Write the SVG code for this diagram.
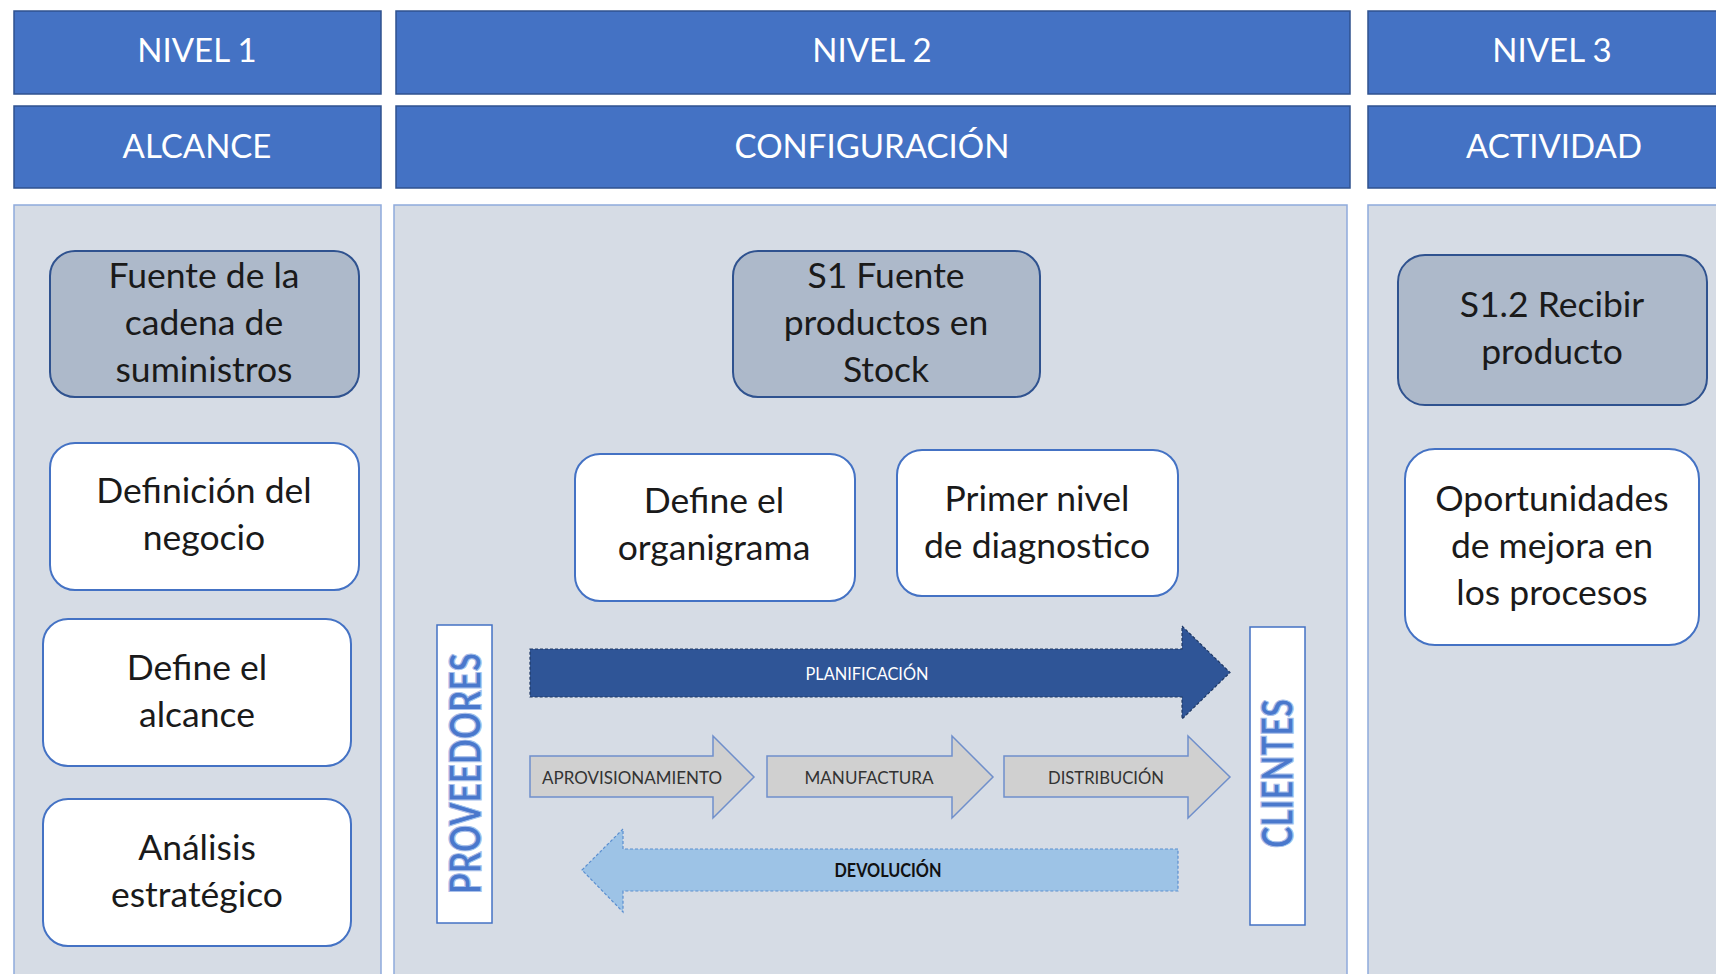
<svg xmlns="http://www.w3.org/2000/svg" width="1716" height="974" viewBox="0 0 1716 974">
<style>
text{font-family:Lato,"Liberation Sans",sans-serif}
.hdr{fill:#4472C4;stroke:#2F528F;stroke-width:1.5}
.hdrt{fill:#ffffff;font-size:33px;text-anchor:middle}
.panel{fill:#D6DCE5;stroke:#8FAADC;stroke-width:1.5}
.dark{fill:#ADB9CA;stroke:#2F528F;stroke-width:2}
.light{fill:#ffffff;stroke:#4472C4;stroke-width:2}
.nt{fill:#1a1a1a;font-size:35.5px;text-anchor:middle}
.side{fill:#ffffff;stroke:#4472C4;stroke-width:1.5}
.wa{fill:#4A78CC;stroke:#A9C0EA;stroke-width:1.2;font-weight:900;font-size:43px;text-anchor:middle}
.gray{fill:#D0D0D0;stroke:#6F8FCB;stroke-width:1.5}
.gt{fill:#333333;font-size:18px;text-anchor:middle}
</style>
<rect width="1716" height="974" fill="#ffffff"/>
<g id="headers">
<g id="h-nivel1"><rect class="hdr" x="14" y="11" width="367" height="83"/><text class="hdrt" x="197" y="62">NIVEL 1</text></g>
<g id="h-nivel2"><rect class="hdr" x="396" y="11" width="954" height="83"/><text class="hdrt" x="872" y="62">NIVEL 2</text></g>
<g id="h-nivel3"><rect class="hdr" x="1368" y="11" width="372" height="83"/><text class="hdrt" x="1552" y="62">NIVEL 3</text></g>
<g id="h-alcance"><rect class="hdr" x="14" y="106" width="367" height="82"/><text class="hdrt" x="197" y="158">ALCANCE</text></g>
<g id="h-config"><rect class="hdr" x="396" y="106" width="954" height="82"/><text class="hdrt" x="872" y="158">CONFIGURACIÓN</text></g>
<g id="h-actividad"><rect class="hdr" x="1368" y="106" width="372" height="82"/><text class="hdrt" x="1554" y="158">ACTIVIDAD</text></g>
</g>
<g id="panels">
<rect class="panel" x="14" y="205" width="367" height="780"/>
<rect class="panel" x="394" y="205" width="953" height="780"/>
<rect class="panel" x="1368" y="205" width="372" height="780"/>
</g>
<g id="n-fuente-cadena"><rect class="dark" x="50" y="251" width="309" height="146" rx="25"/><text class="nt" x="204" y="288">Fuente de la</text><text class="nt" x="204" y="335">cadena de</text><text class="nt" x="204" y="382">suministros</text></g>
<g id="n-definicion"><rect class="light" x="50" y="443" width="309" height="147" rx="25"/><text class="nt" x="204" y="503">Definición del</text><text class="nt" x="204" y="550">negocio</text></g>
<g id="n-alcance"><rect class="light" x="43" y="619" width="308" height="147" rx="25"/><text class="nt" x="197" y="680">Define el</text><text class="nt" x="197" y="727">alcance</text></g>
<g id="n-analisis"><rect class="light" x="43" y="799" width="308" height="147" rx="25"/><text class="nt" x="197" y="860">Análisis</text><text class="nt" x="197" y="907">estratégico</text></g>
<g id="n-s1"><rect class="dark" x="733" y="251" width="307" height="146" rx="25"/><text class="nt" x="886" y="288">S1 Fuente</text><text class="nt" x="886" y="335">productos en</text><text class="nt" x="886" y="382">Stock</text></g>
<g id="n-organigrama"><rect class="light" x="575" y="454" width="280" height="147" rx="25"/><text class="nt" x="714" y="513">Define el</text><text class="nt" x="714" y="560">organigrama</text></g>
<g id="n-diagnostico"><rect class="light" x="897" y="450" width="281" height="146" rx="25"/><text class="nt" x="1037" y="511">Primer nivel</text><text class="nt" x="1037" y="558">de diagnostico</text></g>
<g id="n-s12"><rect class="dark" x="1398" y="255" width="309" height="150" rx="27"/><text class="nt" x="1552" y="317">S1.2 Recibir</text><text class="nt" x="1552" y="364">producto</text></g>
<g id="n-oportunidades"><rect class="light" x="1405" y="449" width="294" height="196" rx="30"/><text class="nt" x="1552" y="511">Oportunidades</text><text class="nt" x="1552" y="558">de mejora en</text><text class="nt" x="1552" y="605">los procesos</text></g>
<g id="n-proveedores"><rect class="side" x="437" y="625" width="55" height="298"/><text class="wa" transform="translate(465.5,773.5) rotate(-90)" x="0" y="15.5" textLength="241" lengthAdjust="spacingAndGlyphs">PROVEEDORES</text></g>
<g id="n-clientes"><rect class="side" x="1250" y="627" width="55" height="298"/><text class="wa" transform="translate(1277,773.5) rotate(-90)" x="0" y="15.5" textLength="149" lengthAdjust="spacingAndGlyphs">CLIENTES</text></g>
<g id="connectors">
<g id="a-planificacion"><path d="M530,649 H1182 V626 L1230,672.5 L1182,719 V697 H530 Z" fill="#2F5597" stroke="#1F3864" stroke-width="1.2" stroke-dasharray="3,2"/><text x="867" y="680" fill="#ffffff" font-size="17" text-anchor="middle" textLength="123" lengthAdjust="spacingAndGlyphs">PLANIFICACIÓN</text></g>
<g id="a-aprovisionamiento"><path class="gray" d="M530,756 H713 V736 L754,777 L713,818 V797 H530 Z"/><text class="gt" x="632" y="784" textLength="180" lengthAdjust="spacingAndGlyphs">APROVISIONAMIENTO</text></g>
<g id="a-manufactura"><path class="gray" d="M767,756 H952 V736 L993,777 L952,818 V797 H767 Z"/><text class="gt" x="869" y="784" textLength="129" lengthAdjust="spacingAndGlyphs">MANUFACTURA</text></g>
<g id="a-distribucion"><path class="gray" d="M1004,756 H1188 V736 L1230,777 L1188,818 V797 H1004 Z"/><text class="gt" x="1106" y="784" textLength="116" lengthAdjust="spacingAndGlyphs">DISTRIBUCIÓN</text></g>
<g id="a-devolucion"><path d="M1178,849 H623 V829 L582,870 L623,912 V891 H1178 Z" fill="#9DC3E6" stroke="#5B8FD0" stroke-width="1.2" stroke-dasharray="3,2"/><text x="888" y="877" fill="#111111" font-size="18" font-weight="bold" text-anchor="middle" textLength="107" lengthAdjust="spacingAndGlyphs">DEVOLUCIÓN</text></g>
</g>
</svg>
